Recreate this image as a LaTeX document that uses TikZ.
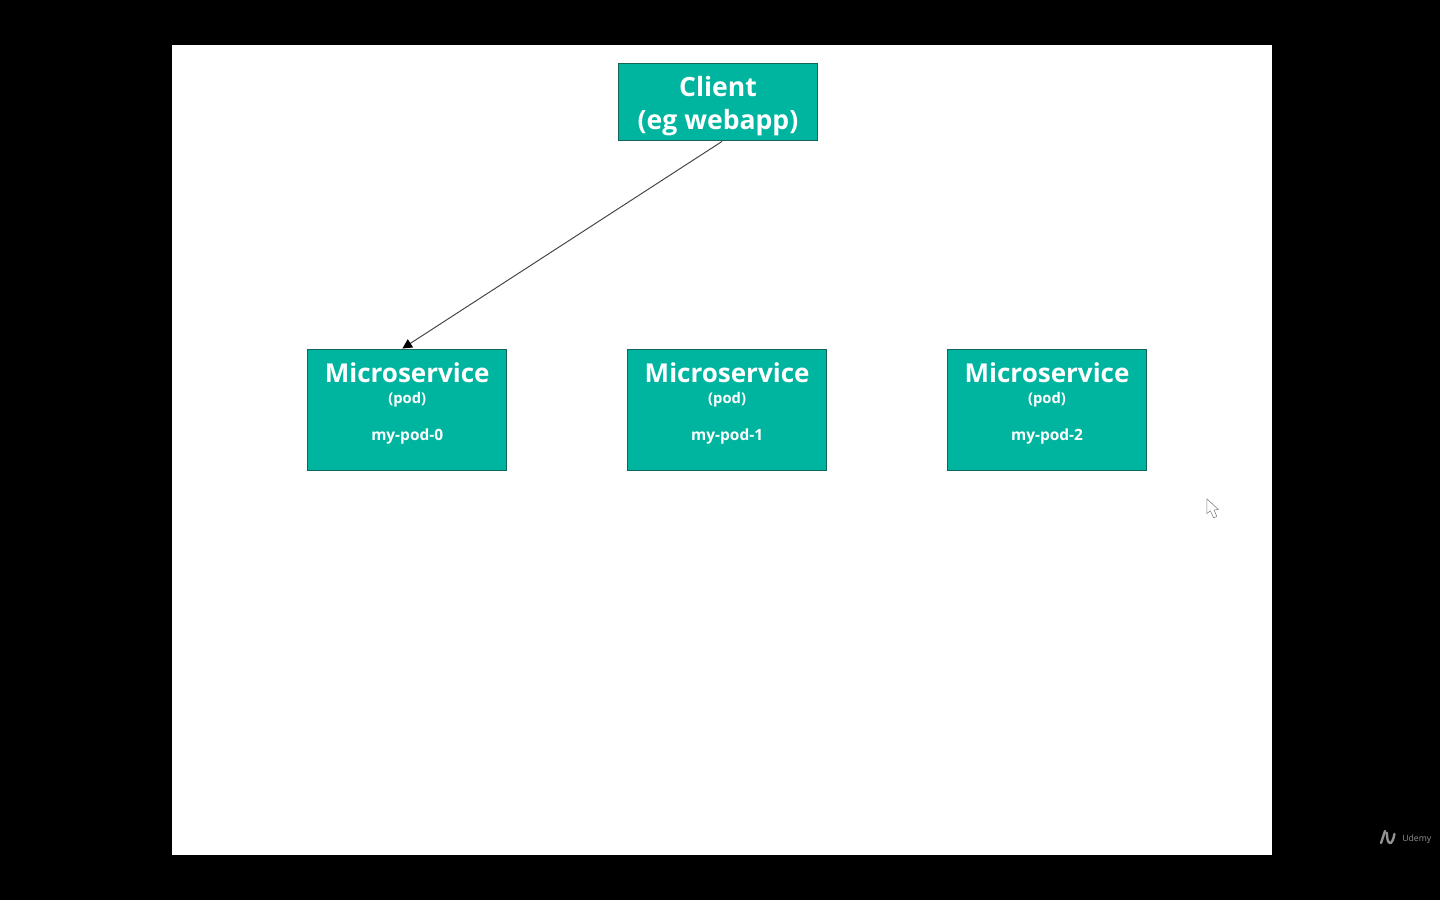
\documentclass[tikz,border=0pt]{standalone}
\usepackage{fontspec}
\setmainfont{Open Sans}
\usetikzlibrary{arrows.meta,positioning,calc}
\definecolor{boxteal}{RGB}{0,181,160}
\definecolor{boxedge}{RGB}{20,100,90}
\definecolor{linkgray}{RGB}{70,70,70}
\newcommand{\podlabel}[1]{{\fontsize{18.5}{22}\bfseries Microservice}\\[2.9pt]
  {\fontsize{10.5}{13}\bfseries (pod)}\\[14.4pt]
  {\fontsize{11}{13}\bfseries #1}\\[-0.5pt]\mbox{}}

\begin{document}
\begin{tikzpicture}[
      >={Triangle[length=2.4mm,width=2.4mm,black]}, node distance=2.995cm,
      n/.style={draw=boxedge, fill=boxteal, text=white, align=center, line width=0.8pt,
                minimum width=4.975cm, inner sep=0pt},
      client/.style={n, minimum height=1.925cm, font=\fontsize{18.9}{23.5}\bfseries},
      svc/.style={n, minimum height=3.025cm},
    ]
    % screen and slide
    \fill[black] (0,0) rectangle (36,22.5);
    \fill[white] (4.31,1.125) rectangle (31.8,21.375);
    \useasboundingbox (0,0) rectangle (36,22.5);

    % pods row
    \node[svc] at (10.18,12.26) (pod0) {\podlabel{my-pod-0}};
    \node[svc, right=of pod0] (pod1) {\podlabel{my-pod-1}};
    \node[svc, right=of pod1] (pod2) {\podlabel{my-pod-2}};

    % client
    \node[client] at (17.95,19.94) (webapp) {\rule{0pt}{19.5pt}Client\\(eg webapp)};

    % flows
    \draw[->, linkgray, line width=0.7pt] ([xshift=1mm]webapp.south) -- ([xshift=-1.2mm]pod0.north);

    % pointer
    \draw[gray, fill=white, line width=0.4pt, line join=round]
      (30.17,10.03) -- (30.17,9.66) -- (30.26,9.73) -- (30.34,9.55) -- (30.42,9.59)
      -- (30.35,9.75) -- (30.46,9.76) -- cycle;

    % watermark
    \node[text=gray!85, font=\fontsize{6.2}{8}\selectfont, inner sep=0pt] at (35.42,1.52) (brand) {Udemy};
    \draw[gray!85, line width=1.7pt, line cap=round]
      (34.525,1.425) -- (34.625,1.725)
      (34.675,1.68) .. controls (34.66,1.4) and (34.8,1.3) .. (34.86,1.65);
  \end{tikzpicture}
\end{document}
